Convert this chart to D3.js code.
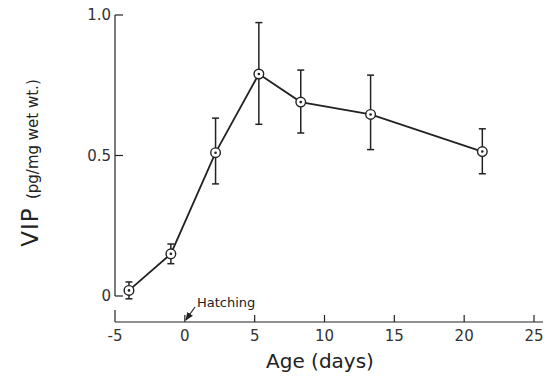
<!DOCTYPE html>
<html>
<head>
<meta charset="utf-8">
<script src="https://cdn.jsdelivr.net/npm/d3@7"></script>
<style>
  body { margin: 0; background: #fff; }
  svg { display: block; font-family: "DejaVu Sans", Verdana, sans-serif; }
</style>
</head>
<body>
<svg id="chart" width="554" height="376"></svg>
<script>
// Age (days) and VIP content (pg/mg wet wt.)
const ages = [-4, -1, 2.2, 5.3, 8.3, 13.3, 21.3];
const vip = [0.02, 0.15, 0.51, 0.79, 0.69, 0.646, 0.514];
const errHi = [0.05, 0.185, 0.633, 0.973, 0.804, 0.786, 0.595];
const errLo = [-0.01, 0.115, 0.399, 0.611, 0.58, 0.521, 0.435];
const xTicks = [-5, 0, 5, 10, 15, 20, 25];
const yTicks = [0, 0.5, 1.0];
const yTickLabels = ["0", "0.5", "1.0"];

const svg = d3.select("#chart");
const ink = "#222";

const x = d3.scaleLinear().domain([-5, 25]).range([115, 534]);
const y = d3.scaleLinear().domain([0, 1]).range([296, 15]);
const xAxisY = 322;

// y axis (ticks point inward)
const yAxis = svg.append("g").attr("transform", "translate(115,0)");
yAxis.append("line")
  .attr("y1", y(1)).attr("y2", y(0))
  .attr("stroke", ink).attr("stroke-width", 1.2);
yAxis.selectAll(".yt").data(yTicks).enter().append("line")
  .attr("x1", 0).attr("x2", 8)
  .attr("y1", d => y(d)).attr("y2", d => y(d))
  .attr("stroke", ink).attr("stroke-width", 1.2);
yAxis.selectAll(".yl").data(yTicks).enter().append("text")
  .attr("x", -4).attr("y", d => y(d))
  .attr("dy", "0.35em")
  .attr("text-anchor", "end")
  .attr("font-size", 15)
  .attr("fill", "#333")
  .text((d, i) => yTickLabels[i]);

// x axis (separate, ticks point up)
const xAxis = svg.append("g");
xAxis.append("line")
  .attr("x1", x(-5)).attr("x2", 543)
  .attr("y1", xAxisY).attr("y2", xAxisY)
  .attr("stroke", ink).attr("stroke-width", 1.2);
xAxis.append("line")
  .attr("x1", x(-5)).attr("x2", x(-5))
  .attr("y1", xAxisY - 12).attr("y2", xAxisY)
  .attr("stroke", ink).attr("stroke-width", 1.2);
xAxis.selectAll(".xt").data(xTicks.slice(1)).enter().append("line")
  .attr("x1", d => x(d)).attr("x2", d => x(d))
  .attr("y1", xAxisY - 7).attr("y2", xAxisY)
  .attr("stroke", ink).attr("stroke-width", 1.2);
xAxis.selectAll(".xl").data(xTicks).enter().append("text")
  .attr("x", d => x(d)).attr("y", 341)
  .attr("text-anchor", "middle")
  .attr("font-size", 15)
  .attr("fill", "#333")
  .text(d => d);

// axis titles
svg.append("text")
  .attr("x", 320).attr("y", 368)
  .attr("text-anchor", "middle")
  .attr("font-size", 20)
  .attr("fill", "#222")
  .text("Age (days)");

const yTitle = svg.append("text")
  .attr("transform", "translate(38,163) rotate(-90)")
  .attr("text-anchor", "middle")
  .attr("fill", "#222");
yTitle.append("tspan").attr("font-size", 23).attr("letter-spacing", 1).text("VIP ");
yTitle.append("tspan").attr("font-size", 15).text("(pg/mg wet wt.)");

// hatching annotation
const defs = svg.append("defs");
defs.append("marker")
  .attr("id", "arrow")
  .attr("viewBox", "0 0 10 10")
  .attr("refX", 9).attr("refY", 5)
  .attr("markerWidth", 7).attr("markerHeight", 7)
  .attr("orient", "auto")
  .append("path").attr("d", "M0,1 L10,5 L0,9 Z").attr("fill", ink);
svg.append("line")
  .attr("x1", 195).attr("y1", 307)
  .attr("x2", x(0) + 1).attr("y2", xAxisY - 2)
  .attr("stroke", ink).attr("stroke-width", 1.2)
  .attr("marker-end", "url(#arrow)");
svg.append("text")
  .attr("x", 197).attr("y", 307)
  .attr("font-size", 13)
  .attr("fill", "#222")
  .text("Hatching");

const pts = ages.map((a, i) => ({ a, v: vip[i], hi: errHi[i], lo: errLo[i] }));

// error bars
const eb = svg.append("g").attr("stroke", ink).attr("stroke-width", 1.5);
eb.selectAll(".bar").data(pts).enter().append("line")
  .attr("x1", d => x(d.a)).attr("x2", d => x(d.a))
  .attr("y1", d => y(d.hi)).attr("y2", d => y(d.lo));
eb.selectAll(".capt").data(pts).enter().append("line")
  .attr("x1", d => x(d.a) - 3.5).attr("x2", d => x(d.a) + 3.5)
  .attr("y1", d => y(d.hi)).attr("y2", d => y(d.hi));
eb.selectAll(".capb").data(pts).enter().append("line")
  .attr("x1", d => x(d.a) - 3.5).attr("x2", d => x(d.a) + 3.5)
  .attr("y1", d => y(d.lo)).attr("y2", d => y(d.lo));

// line
svg.append("path")
  .datum(pts)
  .attr("fill", "none")
  .attr("stroke", ink)
  .attr("stroke-width", 1.8)
  .attr("d", d3.line().x(d => x(d.a)).y(d => y(d.v)));

// markers: open circle with center dot
const mk = svg.append("g");
mk.selectAll("circle.o").data(pts).enter().append("circle")
  .attr("cx", d => x(d.a)).attr("cy", d => y(d.v))
  .attr("r", 4.8)
  .attr("fill", "#fff")
  .attr("stroke", ink).attr("stroke-width", 1.4);
mk.selectAll("circle.c").data(pts).enter().append("circle")
  .attr("cx", d => x(d.a)).attr("cy", d => y(d.v))
  .attr("r", 1.3)
  .attr("fill", ink);
</script>
</body>
</html>
